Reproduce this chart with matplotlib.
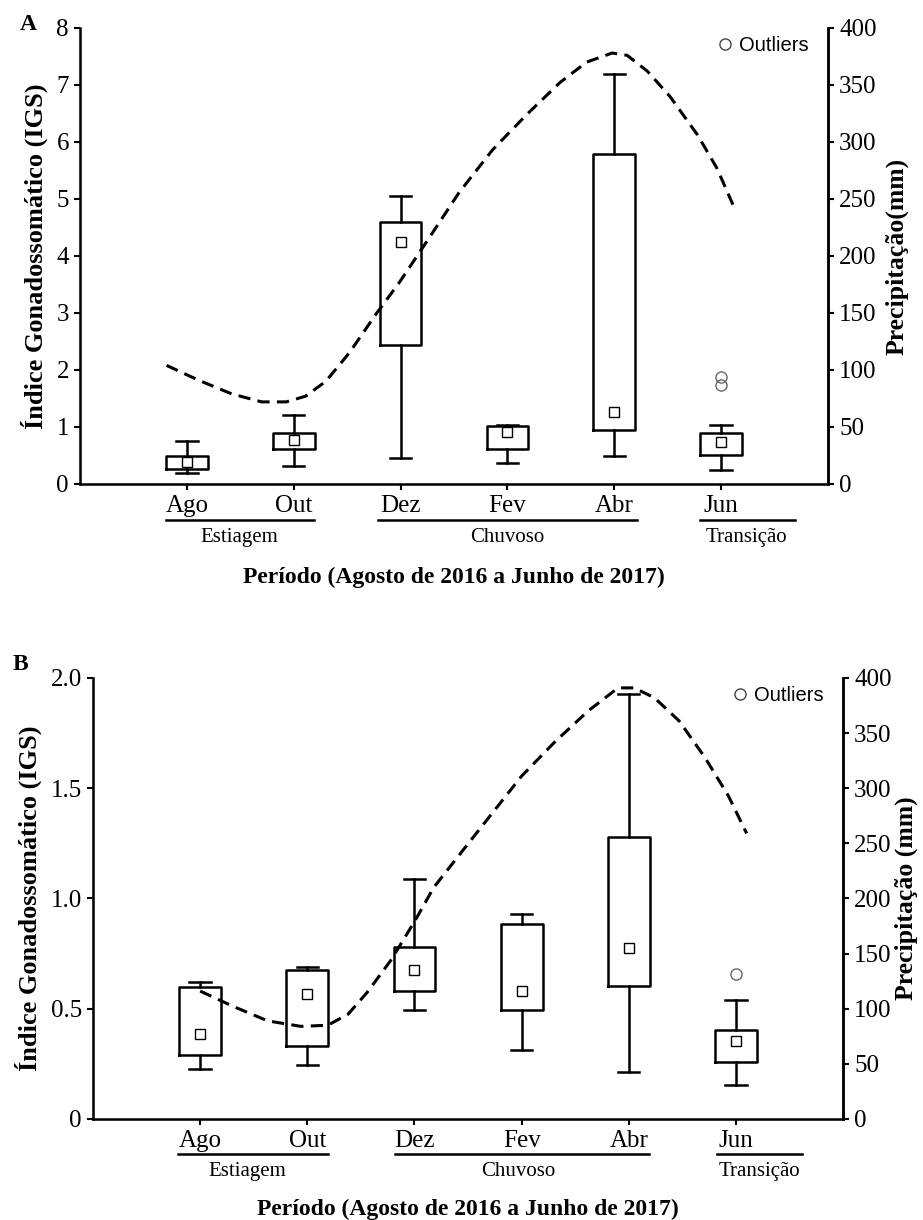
import matplotlib
matplotlib.use("Agg")
import matplotlib.pyplot as plt
from matplotlib.lines import Line2D
import numpy as np

# categories
months = ["Ago", "Out", "Dez", "Fev", "Abr", "Jun"]
seasons = ["Estiagem", "Chuvoso", "Transição"]

# panel A - IGS box statistics per month
a_whislo = [0.20, 0.31, 0.45, 0.36, 0.49, 0.24]
a_q1 = [0.26, 0.62, 2.43, 0.62, 0.95, 0.50]
a_q3 = [0.49, 0.90, 4.59, 1.01, 5.78, 0.90]
a_whishi = [0.76, 1.21, 5.05, 1.03, 7.20, 1.04]
a_mean = [0.39, 0.78, 4.25, 0.92, 1.26, 0.74]
a_fliers = [[], [], [], [], [], [1.74, 1.88]]

# panel A - precipitation curve (month position, mm)
a_rain_x = [0.81, 1.11, 1.42, 1.70, 1.93, 2.11, 2.30, 2.52, 2.77, 2.99, 3.24,
            3.55, 3.86, 4.18, 4.49, 4.74, 4.98, 5.12, 5.31, 5.52, 5.78, 5.96, 6.11]
a_rain_mm = [104, 91, 79, 72, 72, 77, 90, 115, 149, 177, 212,
             256, 293, 324, 352, 370, 378, 376, 362, 340, 306, 277, 245]

# panel B - IGS box statistics per month
b_whislo = [0.226, 0.247, 0.495, 0.312, 0.215, 0.156]
b_q1 = [0.29, 0.333, 0.58, 0.495, 0.604, 0.26]
b_q3 = [0.60, 0.677, 0.78, 0.884, 1.28, 0.405]
b_whishi = [0.62, 0.69, 1.09, 0.93, 1.927, 0.54]
b_mean = [0.387, 0.568, 0.674, 0.582, 0.776, 0.354]
b_fliers = [[], [], [], [], [], [0.658]]

# panel B - precipitation curve (month position, mm)
b_rain_x = [1.00, 1.31, 1.63, 1.94, 2.19, 2.38, 2.56, 2.78, 3.00, 3.18, 3.43,
            3.69, 4.00, 4.31, 4.62, 4.90, 5.05, 5.24, 5.47, 5.71, 5.93, 6.10]
b_rain_mm = [116, 102, 89, 84, 85, 95, 115, 144, 179, 210, 241,
             273, 311, 342, 370, 391, 391, 382, 361, 328, 293, 259]

SERIF = "Liberation Serif"
SANS = "Liberation Sans"
plt.rcParams["font.family"] = SERIF


def draw_panel(ax, whislo, q1, q3, whishi, mean, fliers, rain_x, rain_mm,
               ymax, yticks, yticklabels, rlabel, rpad, spans, text_x):
    stats = []
    for i in range(len(months)):
        stats.append(dict(whislo=whislo[i], q1=q1[i], med=mean[i], q3=q3[i],
                          whishi=whishi[i], mean=mean[i], fliers=fliers[i]))
    pos = np.arange(1, len(months) + 1)
    ax.bxp(stats, positions=pos, widths=0.39, capwidths=0.2, showmeans=True,
           boxprops=dict(color="black", linewidth=1.8),
           whiskerprops=dict(color="black", linewidth=1.8),
           capprops=dict(color="black", linewidth=1.8),
           medianprops=dict(linewidth=0),
           meanprops=dict(marker="s", markerfacecolor="white", markeredgecolor="black",
                          markersize=7.5, markeredgewidth=1.0),
           flierprops=dict(marker="o", markerfacecolor="none", markeredgecolor="#666666",
                           markersize=8, markeredgewidth=1.0))
    ax.set_xlim(0, 7)
    ax.set_ylim(0, ymax)
    ax.set_xticks(pos)
    ax.set_xticklabels(months, fontsize=18)
    ax.set_yticks(yticks)
    ax.set_yticklabels(yticklabels, fontsize=18)
    ax.spines["top"].set_visible(False)
    for s in ["left", "bottom", "right"]:
        ax.spines[s].set_linewidth(1.8)
    ax.tick_params(axis="both", direction="out", length=4, width=1.5, pad=4)
    ax.set_ylabel("Índice Gonadossomático (IGS)", fontsize=19, fontweight="bold", labelpad=6)

    ax2 = ax.twinx()
    ax2.plot(rain_x, rain_mm, color="black", linewidth=2.2, linestyle=(0, (4, 2.4)))
    ax2.set_ylim(0, 400)
    ax2.set_yticks(np.arange(0, 401, 50))
    ax2.set_yticklabels([str(v) for v in range(0, 401, 50)], fontsize=18)
    ax2.spines["top"].set_visible(False)
    ax2.spines["right"].set_linewidth(1.8)
    ax2.tick_params(axis="y", direction="out", length=4, width=1.5, pad=4)
    ax2.set_ylabel(rlabel, fontsize=18.5, fontweight="bold", labelpad=rpad)

    # season groups under the month labels
    tr = ax.get_xaxis_transform()
    for name, (x0, x1), tx in zip(seasons, spans, text_x):
        ax.plot([x0, x1], [-0.080, -0.080], color="black", linewidth=1.8,
                transform=tr, clip_on=False)
        ax.text(tx, -0.118, name, transform=tr, ha="center", va="center", fontsize=15)
    ax.text(3.5, -0.205, "Período (Agosto de 2016 a Junho de 2017)", transform=tr,
            ha="center", va="center", fontsize=17, fontweight="bold")

    handle = Line2D([], [], linestyle="none", marker="o", markerfacecolor="none",
                    markeredgecolor="#444444", markersize=8, markeredgewidth=1.0)
    ax2.legend([handle], ["Outliers"], loc="upper right", frameon=False,
               prop=dict(family=SANS, size=14.5), handlelength=0.6, handletextpad=0.4,
               borderaxespad=0.0, bbox_to_anchor=(0.985, 1.0))


fig = plt.figure(figsize=(9.23, 12.20), dpi=100)
axA = fig.add_axes([0.0867, 0.6033, 0.8104, 0.3738])
axB = fig.add_axes([0.1008, 0.0828, 0.8126, 0.3615])

draw_panel(axA, a_whislo, a_q1, a_q3, a_whishi, a_mean, a_fliers, a_rain_x, a_rain_mm,
           8, np.arange(0, 9), [str(v) for v in range(9)], "Precipitação(mm)", 6,
           [(0.80, 2.19), (2.79, 5.21), (5.80, 6.69)], [1.49, 4.0, 6.24])
draw_panel(axB, b_whislo, b_q1, b_q3, b_whishi, b_mean, b_fliers, b_rain_x, b_rain_mm,
           2.0, [0, 0.5, 1.0, 1.5, 2.0], ["0", "0.5", "1.0", "1.5", "2.0"],
           "Precipitação (mm)", 2,
           [(0.79, 2.19), (2.82, 5.19), (5.82, 6.62)], [1.44, 3.97, 6.22])

fig.text(28 / 923, 1 - 25 / 1220, "A", fontsize=17, fontweight="bold", ha="center", va="center")
fig.text(20 / 923, 1 - 665 / 1220, "B", fontsize=17, fontweight="bold", ha="center", va="center")

fig.savefig("out.png", dpi=100)
